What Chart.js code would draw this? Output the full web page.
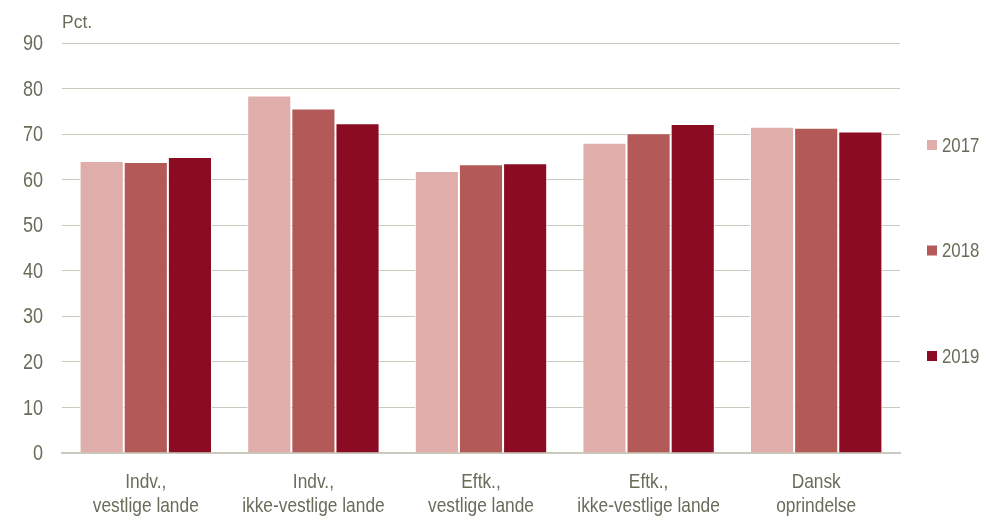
<!DOCTYPE html>
<html>
<head>
<meta charset="utf-8">
<script src="https://cdn.jsdelivr.net/npm/chart.js@4.4.0/dist/chart.umd.min.js"></script>
<style>
  html, body { margin: 0; padding: 0; background: #fff; }
  #wrap { width: 982px; height: 520px; position: relative; }
</style>
</head>
<body>
<div id="wrap"><canvas id="chart"></canvas></div>
<script>
// ── Data ─────────────────────────────────────────────────────────────────────
const categories = [
  ['Indv.,', 'vestlige lande'],
  ['Indv.,', 'ikke-vestlige lande'],
  ['Eftk.,', 'vestlige lande'],
  ['Eftk.,', 'ikke-vestlige lande'],
  ['Dansk', 'oprindelse'],
];
const years = ['2017', '2018', '2019'];
const values2017 = [64.1, 78.5, 61.9, 68.1, 71.6];
const values2018 = [63.9, 75.6, 63.4, 70.2, 71.4];
const values2019 = [65.0, 72.4, 63.6, 72.2, 70.6];
const yTicks = [0, 10, 20, 30, 40, 50, 60, 70, 80, 90];

// ── Style ────────────────────────────────────────────────────────────────────
const FONT = "'Liberation Sans', Arial, sans-serif";
const TEXT = '#6b6b5a';
const GRID = '#c9c9bd';
const COLORS = ['#dfaeab', '#b35a58', '#8b0c22'];

Chart.defaults.font.family = FONT;
Chart.defaults.color = TEXT;

// the original uses a narrow face; squeeze a regular one horizontally
function narrowText(ctx, text, x, y, size, sx, align, baseline) {
  ctx.save();
  ctx.font = size + 'px ' + FONT;
  ctx.fillStyle = TEXT;
  ctx.textAlign = align;
  ctx.textBaseline = baseline;
  ctx.translate(x, y);
  ctx.scale(sx, 1);
  ctx.fillText(text, 0, 0);
  ctx.restore();
}

// axis labels, "Pct." and the right-hand legend
const textLayer = {
  id: 'textLayer',
  afterDraw(chart) {
    const { ctx, chartArea } = chart;
    const xs = chart.scales.x, ys = chart.scales.y;

    // y tick labels
    ys.ticks.forEach(t => {
      narrowText(ctx, String(t.value), chartArea.left - 19, ys.getPixelForValue(t.value) + 1, 22, 0.82, 'right', 'middle');
    });

    // x category labels (two lines)
    chart.data.labels.forEach((lines, i) => {
      const x = xs.getPixelForTick(i);
      lines.forEach((line, j) => {
        narrowText(ctx, line, x, chartArea.bottom + 35 + j * 24, 21, 0.825, 'center', 'alphabetic');
      });
    });

    // unit
    narrowText(ctx, 'Pct.', chartArea.left, 28, 19, 0.92, 'left', 'alphabetic');

    // legend
    const sets = chart.data.datasets;
    const mid = (chartArea.top + chartArea.bottom) / 2 + 2.5;
    const step = 105.5;
    sets.forEach((ds, i) => {
      const y = mid + (i - (sets.length - 1) / 2) * step;
      ctx.fillStyle = ds.backgroundColor;
      ctx.fillRect(927, y - 5, 10, 10);
      narrowText(ctx, ds.label, 942, y + 1, 21, 0.8, 'left', 'middle');
    });
  }
};

const seriesValues = [values2017, values2018, values2019];

new Chart(document.getElementById('chart'), {
  type: 'bar',
  data: {
    labels: categories,
    datasets: years.map((y, i) => ({
      label: y,
      data: seriesValues[i],
      backgroundColor: COLORS[i],
      borderColor: '#ffffff',
      borderWidth: 1,
      borderSkipped: 'bottom',
      categoryPercentage: 0.79,
      barPercentage: 1.0,
    })),
  },
  options: {
    responsive: true,
    maintainAspectRatio: false,
    animation: false,
    layout: { padding: { top: 43, left: 62, right: 82, bottom: 67 } },
    scales: {
      x: {
        grid: { display: false, drawTicks: false },
        border: { display: true, color: GRID, width: 2 },
        ticks: { display: false },
      },
      y: {
        min: 0,
        max: 90,
        afterBuildTicks: axis => { axis.ticks = yTicks.map(v => ({ value: v })); },
        grid: { color: GRID, lineWidth: 1, drawTicks: false },
        border: { display: false },
        ticks: { display: false },
      },
    },
    plugins: {
      legend: { display: false },
      tooltip: { enabled: false },
    },
  },
  plugins: [textLayer],
});
</script>
</body>
</html>
